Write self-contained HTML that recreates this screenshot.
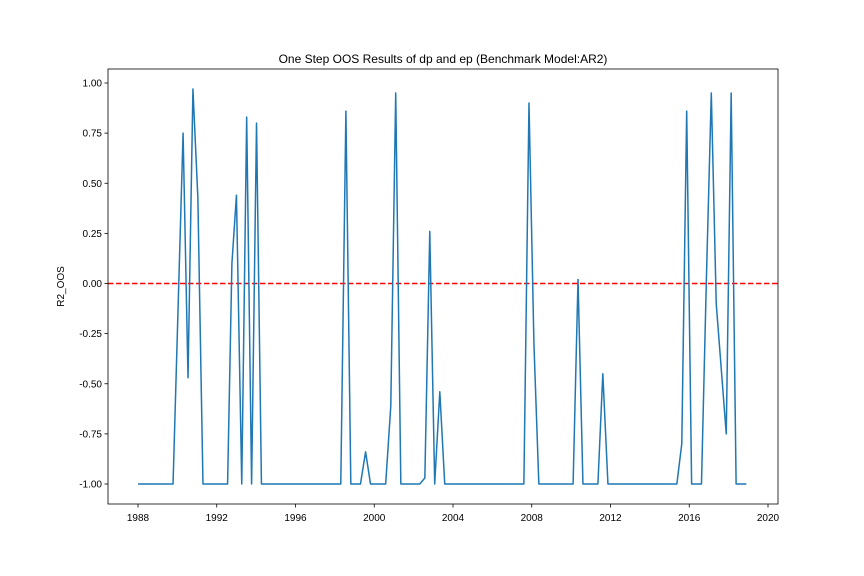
<!DOCTYPE html>
<html><head><meta charset="utf-8"><style>
body{margin:0;background:#fff;}
svg{display:block;font-family:"Liberation Sans","DejaVu Sans",sans-serif;}
</style></head><body>
<svg id="chart" width="864" height="576"></svg>
<script>
const dates=[1988.0,1989.78,1990.29,1990.54,1990.79,1991.04,1991.3,1992.55,1992.77,1993.0,1993.27,1993.52,1993.77,1994.02,1994.27,1998.3,1998.56,1998.81,1999.3,1999.56,1999.81,2000.58,2000.84,2001.09,2001.35,2002.31,2002.57,2002.82,2003.07,2003.33,2003.58,2007.6,2007.86,2008.11,2008.36,2010.1,2010.35,2010.6,2011.36,2011.61,2011.87,2015.37,2015.62,2015.87,2016.12,2016.62,2016.87,2017.12,2017.37,2017.88,2018.13,2018.38,2018.9];
const values=[-1,-1,0.75,-0.47,0.97,0.43,-1,-1,0.1,0.44,-1,0.83,-1,0.8,-1,-1,0.86,-1,-1,-0.84,-1,-1,-0.61,0.95,-1,-1,-0.97,0.26,-1,-0.54,-1,-1,0.9,-0.3,-1,-1,0.02,-1,-1,-0.45,-1,-1,-0.8,0.86,-1,-1,0.02,0.95,-0.1,-0.75,0.95,-1,-1];
const xTicks=[1988,1992,1996,2000,2004,2008,2012,2016,2020];
const yTicks=[-1.00,-0.75,-0.50,-0.25,0.00,0.25,0.50,0.75,1.00];
const NS="http://www.w3.org/2000/svg";
const svg=document.getElementById('chart');
const L=108,R=778,T=69,B=504;
const xs=d=>138+(d-1988)*(630/32);
const ys=v=>283.5-v*200.5;
function mk(t,a,p){const e=document.createElementNS(NS,t);for(const k in a)e.setAttribute(k,a[k]);(p||svg).appendChild(e);return e;}
// zero line
const zl=mk('line',{x1:L,x2:R,y1:ys(0),y2:ys(0),stroke:'#ff0000',"stroke-width":1.5,"stroke-dasharray":"5.5,2.5"});


// series
const pts=dates.map((d,i)=>xs(d).toFixed(2)+','+ys(values[i]).toFixed(2)).join(' ');
const pl=mk('polyline',{points:pts,fill:'none',stroke:'#1f77b4',"stroke-width":1.5,"stroke-linejoin":"round"});


// frame
const fr=mk('rect',{x:L,y:T,width:R-L,height:B-T,fill:'none',stroke:'#000',"stroke-width":0.8});


xTicks.forEach(t=>{
  const x=xs(t);
  mk('line',{x1:x,x2:x,y1:B,y2:B+3.5,stroke:'#000',"stroke-width":0.8});
  const tx=mk('text',{x:x,y:B+17,"text-anchor":"middle","font-size":10,fill:'#000'});
  tx.textContent=t;
  
  
});
yTicks.forEach(t=>{
  const y=ys(t);
  mk('line',{x1:L-3.5,x2:L,y1:y,y2:y,stroke:'#000',"stroke-width":0.8});
  const tx=mk('text',{x:L-6,y:y+3.5,"text-anchor":"end","font-size":10,fill:'#000'});
  tx.textContent=t.toFixed(2);
  
  
});
const ttl=mk('text',{x:(L+R)/2,y:63,"text-anchor":"middle","font-size":12,fill:'#000'});
ttl.textContent='One Step OOS Results of dp and ep (Benchmark Model:AR2)';


const yl=mk('text',{x:0,y:0,"text-anchor":"middle","font-size":10,fill:'#000',transform:'translate(64,'+((T+B)/2)+') rotate(-90)'});
yl.textContent='R2_OOS';


</script>
</body></html>
